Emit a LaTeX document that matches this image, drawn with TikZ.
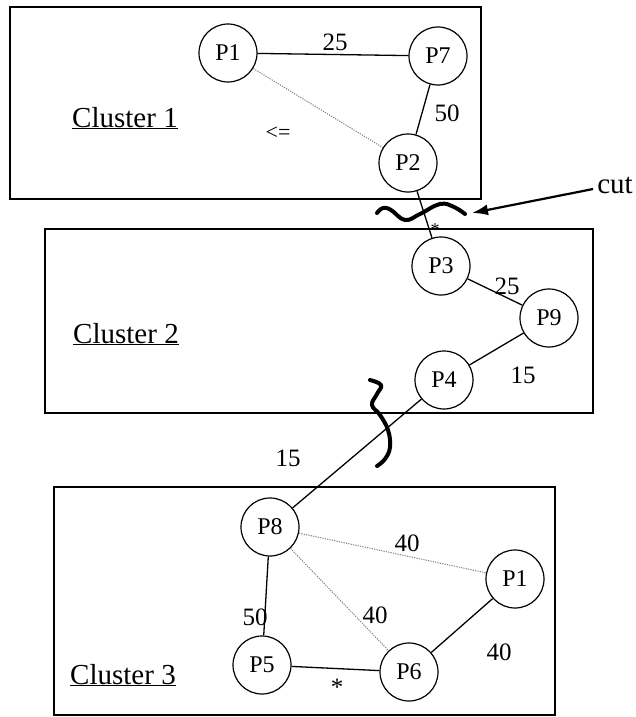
\documentclass[tikz,border=0pt]{standalone}
\usepackage{fontspec}
\setmainfont{Liberation Serif}
\usetikzlibrary{arrows.meta}
\begin{document}
\begin{tikzpicture}[x=1pt,y=-1pt,
  proc/.style={draw,circle,minimum size=58pt,inner sep=0pt,line width=1.2pt,font=\fontsize{24}{26}\selectfont},
  clusterbox/.style={draw,line width=1.3pt},
  link/.style={line width=1.3pt},
  weak/.style={draw=gray,line width=1pt,dash pattern=on 1.2pt off 1.2pt},
  wt/.style={font=\fontsize{25}{27}\selectfont,inner sep=0pt},
  clabel/.style={font=\fontsize{29}{31}\selectfont,inner sep=0pt,anchor=base},
  cutmark/.style={line width=4pt,line cap=round,line join=round}
]
\useasboundingbox (0,0) rectangle (636,717);

% cluster boxes
\draw[clusterbox] (10,7) rectangle (481,199);
\draw[clusterbox] (45,229) rectangle (593,413);
\draw[clusterbox] (54,487) rectangle (555,715);

\node[clabel] (c1) at (125,127) {\underline{Cluster 1}};
\node[clabel] (c2) at (126,343) {\underline{Cluster 2}};
\node[clabel] (c3) at (123,684) {\underline{Cluster 3}};

% processes
\node[proc] (P1a) at (228,53) {P1};
\node[proc] (P7) at (438,56) {P7};
\node[proc] (P2) at (408,163) {P2};
\node[proc] (P3) at (441,266) {P3};
\node[proc] (P9) at (549,318) {P9};
\node[proc] (P4) at (444,380) {P4};
\node[proc] (P8) at (270,527) {P8};
\node[proc] (P5) at (262,665) {P5};
\node[proc] (P6) at (409,672) {P6};
\node[proc] (P1b) at (515,579) {P1};

% connectors
\draw[link] (P1a) -- (P7);
\draw[link] (P7) -- (P2);
\draw[weak] (P1a) -- (P2);
\draw[link] (P2) -- (P3);
\draw[link] (P3) -- (P9);
\draw[link] (P9) -- (P4);
\draw[link] (P4) -- (P8);
\draw[link] (P8) -- (P5);
\draw[weak] (P8) -- (P1b);
\draw[weak] (P8) -- (P6);
\draw[link] (P5) -- (P6);
\draw[link] (P6) -- (P1b);

% weights
\node[wt] (w1) at (335,42) {25};
\node[wt] (w2) at (447,113) {50};
\node[wt] (w3) at (507,286) {25};
\node[wt] (w4) at (523,375) {15};
\node[wt] (w5) at (288,458) {15};
\node[wt] (w6) at (255,617) {50};
\node[wt] (w7) at (407,543) {40};
\node[wt] (w8) at (375,615) {40};
\node[wt] (w9) at (499,652) {40};
\node[wt] (s1) at (435,230) {\fontsize{18}{20}\selectfont *};
\node[wt] (s2) at (337,687) {*};
\node[font=\fontsize{22}{24}\selectfont,inner sep=0pt] (back) at (278,133) {<=};

% cut marks
\draw[cutmark] plot[smooth,tension=0.7] coordinates {(377,213) (383,208) (391,210) (405,220) (420,214) (440,204) (454,207) (465,214)};
\draw[cutmark] plot[smooth,tension=0.7] coordinates {(370,380) (381,385) (377,394) (372,405) (380,415) (388,430) (390,447) (385,459) (377,466)};

\node[clabel,anchor=center] (cut) at (615,185) {cut};
\coordinate (cuttip) at (472,213);
\draw[line width=2.2pt,-{Latex[length=16pt,width=11pt]}] ([xshift=-4pt,yshift=-4pt]cut.west) -- (cuttip);
\end{tikzpicture}
\end{document}
